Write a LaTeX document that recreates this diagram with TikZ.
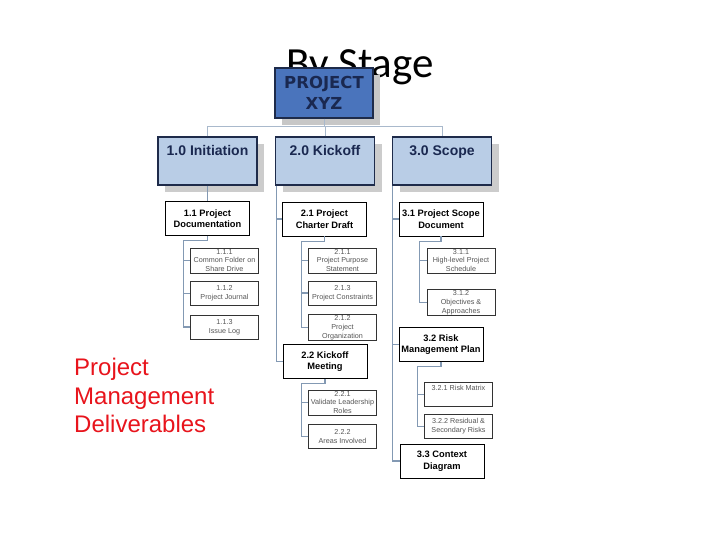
\documentclass[tikz,border=0pt]{standalone}
\usepackage{fontspec}
\setmainfont{Liberation Sans}
\newfontfamily\titlefont{Carlito}
\newfontfamily\rootfont{DejaVu Sans}
\usetikzlibrary{shadows}

\definecolor{rootblue}{HTML}{4A74BC}
\definecolor{stageblue}{HTML}{B9CDE6}
\definecolor{edgenavy}{HTML}{1E2B4A}
\definecolor{textnavy}{HTML}{1A2850}
\definecolor{linkgray}{HTML}{8399B3}
\definecolor{bargray}{HTML}{A9B9CC}
\definecolor{taskgray}{HTML}{555555}
\definecolor{notered}{HTML}{E8141C}

\tikzset{
  rootbox/.style={draw=edgenavy, line width=1.3pt,
    fill=rootblue, minimum width=98pt, minimum height=50pt, align=center, inner sep=2pt,
    font=\rootfont\fontsize{16.5}{21}\selectfont\bfseries, text=textnavy,
    drop shadow={shadow xshift=7pt, shadow yshift=-7pt, fill=black!22, opacity=1}},
  stagebox/.style={draw=edgenavy, line width=1.3pt,
    fill=stageblue, minimum width=99pt, text height=10.5pt, text depth=20.5pt, inner ysep=8.5pt,
    font=\fontsize{14}{16}\selectfont\bfseries, text=textnavy,
    drop shadow={shadow xshift=7pt, shadow yshift=-7pt, fill=black!20, opacity=1}},
  itembox/.style={draw=black, line width=0.7pt, fill=white, minimum width=84pt, minimum height=34pt,
    align=center, inner sep=1pt, font=\fontsize{9.3}{11.5}\selectfont\bfseries},
  taskbox/.style={draw=black!80, line width=0.5pt, fill=white, minimum width=68pt, minimum height=24pt,
    align=center, inner sep=1pt, font=\fontsize{7.2}{8.8}\selectfont, text=taskgray},
  link/.style={draw=linkgray, line width=1.1pt},
  toplink/.style={draw=bargray, line width=0.8pt},
}

\begin{document}
\begin{tikzpicture}[x=1pt, y=-1pt]
  \useasboundingbox[fill=white] (0,0) rectangle (720,540);

  % Title (partly hidden by the top box)
  \node[anchor=base, font=\titlefont\fontsize{43}{43}\selectfont] (title) at (360,78) {By Stage};

  % Top of the tree
  \node[rootbox] (root) at (324,93) {PROJECT\\XYZ};

  % Stages
  \node[stagebox] (init)  at (207.5,161) {1.0 Initiation};
  \node[stagebox] (kick)  at (325,161)   {2.0 Kickoff};
  \node[stagebox] (scope) at (442,161)   {3.0 Scope};

  % Deliverables
  \node[itembox] (doc)     at (207.5,218.5) {1.1 Project\\Documentation};
  \node[itembox] (charter) at (324.5,219)   {2.1 Project\\Charter Draft};
  \node[itembox] (meet)    at (325,361.5)   {2.2 Kickoff\\Meeting};
  \node[itembox] (scdoc)   at (441,219)     {3.1 Project Scope\\Document};
  \node[itembox] (risk)    at (441,344.5)   {3.2 Risk\\Management Plan};
  \node[itembox] (ctx)     at (442,461)     {3.3 Context\\Diagram};

  % Tasks
  \node[taskbox] (folder)  at (224.5,260.5) {1.1.1\\Common Folder on\\Share Drive};
  \node[taskbox] (journal) at (224.5,293.5) {1.1.2\\Project Journal};
  \node[taskbox] (logs)    at (224.5,327)   {1.1.3\\Issue Log};
  \node[taskbox] (purpose) at (342.5,260.5) {2.1.1\\Project Purpose\\Statement};
  \node[taskbox] (constr)  at (342.5,293)   {2.1.3\\Project Constraints};
  \node[taskbox] (org)     at (342.5,327.5) {2.1.2\\Project\\Organization};
  \node[taskbox] (lead)    at (342.5,402.5) {2.2.1\\Validate Leadership\\Roles};
  \node[taskbox] (areas)   at (342.5,436.5) {2.2.2\\Areas Involved};
  \node[taskbox] (sched)   at (461,260.5)   {3.1.1\\High-level Project\\Schedule};
  \node[taskbox] (obj)     at (461,302.5)   {3.1.2\\Objectives \&\\Approaches};
  \node[taskbox, text height=6pt, text depth=14pt] (matrix) at (458.5,394.5) {3.2.1 Risk Matrix};
  \node[taskbox] (resid)   at (458.5,426.5) {3.2.2 Residual \&\\Secondary Risks};

  % Top bar
  \coordinate (bar) at (0,126);
  \draw[toplink] (root.south) -- (root.south |- bar);
  \draw[toplink] (init.north) -- (init.north |- bar) -- (scope.north |- bar) -- (scope.north);
  \draw[toplink] (kick.north) -- (kick.north |- bar);

  % Stage spines
  \draw[link] (init.south) -- (doc.north);
  \foreach \c in {charter,meet}
    \draw[link] ([xshift=1.5pt]kick.south west) |- (\c.west);
  \foreach \c in {scdoc,risk,ctx}
    \draw[link] ([xshift=0.5pt]scope.south west) |- (\c.west);

  % Task forks
  \foreach \p/\c in {doc/folder,doc/journal,doc/logs,
                     charter/purpose,charter/constr,charter/org,
                     meet/lead,meet/areas,
                     scdoc/sched,scdoc/obj,
                     risk/matrix,risk/resid}
    \draw[link] (\p.south) -- ([yshift=-5pt]\p.south) -| ([xshift=-7pt]\c.west) -- (\c.west);

  % Side note
  \node[anchor=north west, align=left, inner sep=0pt, text=notered,
        font=\fontsize{24}{28.5}\selectfont] (note) at (74,358) {Project\\Management\\Deliverables};
\end{tikzpicture}
\end{document}
